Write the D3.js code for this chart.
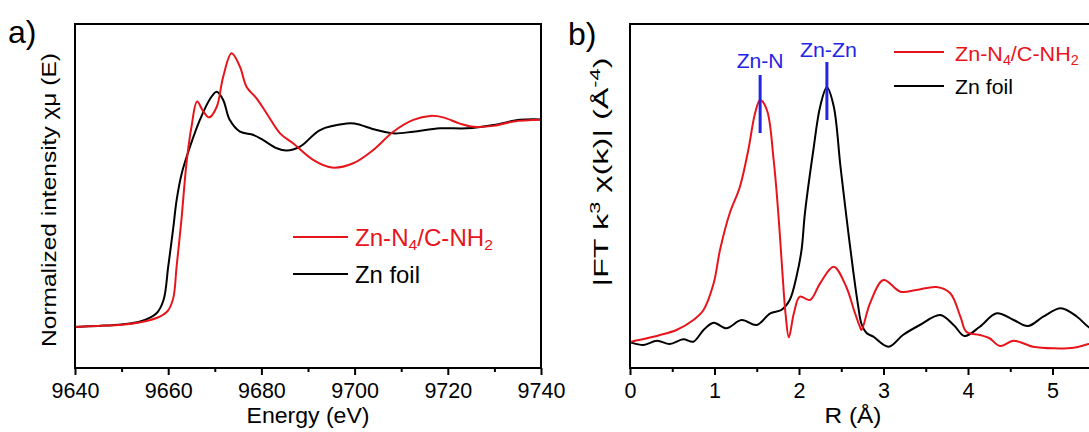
<!DOCTYPE html>
<html><head><meta charset="utf-8">
<script src="https://cdn.jsdelivr.net/npm/d3@7"></script>
<style>
html,body{margin:0;padding:0;background:#fff;overflow:hidden}
text{font-family:"Liberation Sans",Arial,sans-serif}
</style></head>
<body><svg id="c" width="1089" height="432"></svg>
<script>
// ---------- Data ----------
// Panel a: XANES (energy eV, normalized mu)
const xanesEnergy = [9640,9645,9650,9654,9657.5,9659,9660,9661.1,9661.8,9662.9,9663.2,9664.0,9665.0,9666.2,9667.5,9668.8,9670.4,9671.8,9673.6,9675.4,9676.8,9679.0,9681.1,9684.0,9686.8,9691.1,9695.1,9699.7,9704.0,9708.3,9712.6,9716.2,9719.0,9722.6,9725.5,9729.8,9734.1,9740];
const xanesSample = [0.0,0.005,0.01,0.022,0.043,0.06,0.08,0.14,0.29,0.53,0.61,0.805,0.965,1.086,1.04,1.01,1.06,1.206,1.319,1.254,1.158,1.10,1.03,0.933,0.885,0.805,0.768,0.789,0.853,0.941,0.998,1.017,1.01,0.98,0.965,0.969,0.99,0.998];
const foilEnergy = [9640,9645,9650,9654,9657.5,9659,9660,9661.1,9661.8,9662.9,9664.7,9666.8,9669.0,9670.4,9671.8,9673.2,9675.4,9678.3,9680.4,9683.3,9685.4,9688.3,9692.6,9698.3,9700,9704.7,9708.3,9712.6,9718.3,9724.1,9729.8,9735.5,9740];
const xanesFoil = [0.0,0.005,0.012,0.026,0.066,0.13,0.29,0.48,0.61,0.74,0.87,0.998,1.10,1.134,1.094,0.998,0.941,0.925,0.90,0.861,0.85,0.869,0.949,0.98,0.98,0.949,0.933,0.941,0.957,0.957,0.973,0.998,1.0];
const xanesTicks = [9640,9660,9680,9700,9720,9740];

// Panel b: FT-EXAFS (R in Angstrom, magnitude)
const ftRSample = [0.0,0.02,0.16,0.355,0.55,0.75,0.87,0.99,1.065,1.18,1.30,1.40,1.48,1.54,1.62,1.70,1.755,1.80,1.84,1.88,1.94,2.01,2.13,2.25,2.41,2.56,2.65,2.72,2.74,2.84,3.0,3.2,3.39,3.63,3.79,3.91,3.98,4.14,4.25,4.38,4.54,4.77,5.01,5.25,5.43,5.6];
const ftSample = [0.25,0.263,0.29,0.33,0.38,0.48,0.58,0.847,1.18,1.547,1.81,2.18,2.547,2.68,2.58,2.08,1.547,1.0,0.55,0.307,0.55,0.713,0.68,0.847,1.013,0.81,0.58,0.413,0.38,0.647,0.88,0.763,0.78,0.81,0.747,0.513,0.363,0.33,0.30,0.22,0.273,0.213,0.197,0.203,0.24,0.27];
const ftRFoil = [0.0,0.02,0.16,0.32,0.47,0.63,0.75,0.87,0.99,1.14,1.32,1.50,1.66,1.79,1.89,1.97,2.03,2.07,2.17,2.25,2.33,2.41,2.49,2.56,2.64,2.70,2.74,2.80,2.88,3.06,3.23,3.43,3.67,3.83,3.96,4.14,4.34,4.54,4.71,4.89,5.10,5.29,5.43,5.6];
const ftFoil = [0.26,0.253,0.23,0.273,0.24,0.287,0.263,0.38,0.453,0.397,0.48,0.43,0.547,0.58,0.68,0.913,1.18,1.547,2.18,2.613,2.807,2.62,2.02,1.52,0.98,0.62,0.44,0.35,0.313,0.213,0.33,0.43,0.53,0.43,0.32,0.413,0.547,0.48,0.42,0.513,0.597,0.513,0.407,0.33];
const ftTicks = [0,1,2,3,4,5];

const peakLabels = ["Zn-N","Zn-Zn"];
const peakR = [1.54,2.33];

const red = "#e8141c", blue = "#2424e6";
const svg = d3.select("#c");

function frame(g, x0, y0, x1, y1){
  g.append("rect").attr("x",x0).attr("y",y0).attr("width",x1-x0).attr("height",y1-y0)
   .attr("fill","none").attr("stroke","#000").attr("stroke-width",2);
}
function styleAxis(sel){
  sel.select(".domain").remove();
  sel.selectAll("line").attr("stroke","#000").attr("stroke-width",2);
  sel.selectAll("text").attr("fill","#000").style("font-size","21.5px").style("font-family","Liberation Sans, Arial, sans-serif");
}
const line = (x,y)=> d3.line().x(d=>x(d[0])).y(d=>y(d[1])).curve(d3.curveCatmullRom.alpha(0.5));

// place a text of given length along its own direction (stretch to fit)
function fitted(g, cx, cy, rot, len, size, build, color){
  const outer = g.append("g").attr("transform",`translate(${cx},${cy}) rotate(${rot})`);
  const inner = outer.append("g");
  const t = inner.append("text").attr("text-anchor","middle").style("font-size",size+"px").attr("fill",color||"#000");
  build(t);
  const w = t.node().getBBox().width;
  inner.attr("transform",`scale(${len/w},1)`);
  return t;
}
function fittedLeft(g, x0, yb, len, size, build, color){
  const outer = g.append("g").attr("transform",`translate(${x0},${yb})`);
  const t = outer.append("text").style("font-size",size+"px").attr("fill",color||"#000");
  build(t);
  const w = t.node().getBBox().width;
  outer.attr("transform",`translate(${x0},${yb}) scale(${len/w},1)`);
  return t;
}
function legendLabel(t, sub){
  t.append("tspan").text("Zn-N");
  t.append("tspan").attr("baseline-shift","-25%").style("font-size",sub+"px").text("4");
  t.append("tspan").text("/C-NH");
  t.append("tspan").attr("baseline-shift","-25%").style("font-size",sub+"px").text("2");
}

// ---------- Panel a ----------
{
  const L=75,R=541,T=24,B=368;
  const x = d3.scaleLinear().domain([9640,9740]).range([L,R]);
  const y = d3.scaleLinear().domain([-0.198,1.46]).range([B,T]);
  const g = svg.append("g");
  const minor = d3.range(9650,9740,20);
  g.append("g").attr("transform",`translate(0,${B})`)
   .call(d3.axisBottom(x).tickValues(minor).tickSize(4).tickFormat("")).call(styleAxis);
  g.append("g").attr("transform",`translate(0,${B})`)
   .call(d3.axisBottom(x).tickValues(xanesTicks).tickSize(7).tickPadding(8).tickFormat(d3.format("d"))).call(styleAxis);
  g.append("path").datum(d3.zip(foilEnergy,xanesFoil)).attr("d",line(x,y)).attr("fill","none").attr("stroke","#000").attr("stroke-width",2);
  g.append("path").datum(d3.zip(xanesEnergy,xanesSample)).attr("d",line(x,y)).attr("fill","none").attr("stroke",red).attr("stroke-width",2);
  frame(g,L,T,R,B);
  fitted(g,308,423,0,123,22,t=>t.text("Energy (eV)"));
  fitted(g,56,200,-90,294,21,t=>t.text("Normalized intensity χμ (E)"));
  g.append("text").attr("x",8).attr("y",43).style("font-size","32px").text("a)");
  // legend
  g.append("line").attr("x1",293).attr("x2",348).attr("y1",237).attr("y2",237).attr("stroke",red).attr("stroke-width",2);
  fittedLeft(g,355,246,138,23,t=>legendLabel(t,15),red);
  g.append("line").attr("x1",293).attr("x2",348).attr("y1",274).attr("y2",274).attr("stroke","#000").attr("stroke-width",2);
  fittedLeft(g,355,283,65,23,t=>t.text("Zn foil"));
}

// ---------- Panel b ----------
{
  const L=630,T=24,B=368;
  const x = d3.scaleLinear().domain([0,1]).range([L,L+84.5]);
  const R = x(6);
  const y = d3.scaleLinear().domain([0,3.44]).range([B,T]);
  const g = svg.append("g");
  const minor = d3.range(0.5,6,1);
  g.append("g").attr("transform",`translate(0,${B})`)
   .call(d3.axisBottom(x).tickValues(minor).tickSize(4).tickFormat("")).call(styleAxis);
  g.append("g").attr("transform",`translate(0,${B})`)
   .call(d3.axisBottom(x).tickValues(ftTicks).tickSize(7).tickPadding(8).tickFormat(d3.format("d"))).call(styleAxis);
  g.append("path").datum(d3.zip(ftRFoil,ftFoil)).attr("d",line(x,y)).attr("fill","none").attr("stroke","#000").attr("stroke-width",2);
  g.append("path").datum(d3.zip(ftRSample,ftSample)).attr("d",line(x,y)).attr("fill","none").attr("stroke",red).attr("stroke-width",2);
  frame(g,L,T,R,B);
  fitted(g,853,423,0,57,22,t=>t.text("R (Å)"));
  fitted(g,608,172,-90,229,21,t=>{
    t.append("tspan").text("|FT k");
    t.append("tspan").attr("baseline-shift","super").style("font-size","14px").text("3");
    t.append("tspan").text(" χ(k)| (Å");
    t.append("tspan").attr("baseline-shift","super").style("font-size","14px").text("-4");
    t.append("tspan").text(")");
  });
  g.append("text").attr("x",568).attr("y",45).style("font-size","32px").text("b)");
  // peak markers
  const ly = [[75,133],[62,120]];
  const ty = [68,57];
  const tw = [47,57];
  peakR.forEach((r,i)=>{
    g.append("line").attr("x1",x(r)).attr("x2",x(r)).attr("y1",ly[i][0]).attr("y2",ly[i][1]).attr("stroke",blue).attr("stroke-width",3);
    fitted(g,x(r)+i*1.5,ty[i],0,tw[i],20,t=>t.text(peakLabels[i]),blue);
  });
  // legend
  g.append("line").attr("x1",894).attr("x2",944).attr("y1",52).attr("y2",52).attr("stroke",red).attr("stroke-width",2);
  fittedLeft(g,955,61,124,21,t=>legendLabel(t,14),red);
  g.append("line").attr("x1",894).attr("x2",944).attr("y1",86).attr("y2",86).attr("stroke","#000").attr("stroke-width",2);
  fittedLeft(g,955,94,58,21,t=>t.text("Zn foil"));
}
</script></body></html>
